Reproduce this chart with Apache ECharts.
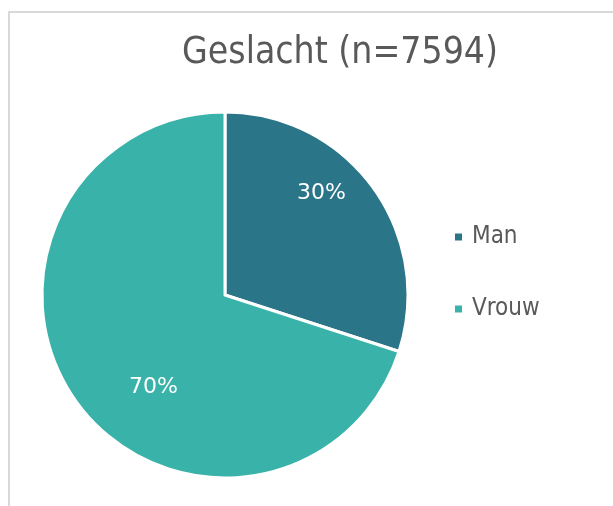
<!DOCTYPE html>
<html>
<head>
<meta charset="utf-8">
<script src="https://cdn.jsdelivr.net/npm/echarts@6/dist/echarts.min.js"></script>
<style>
  html, body { margin: 0; padding: 0; background: #fff; }
  #frame {
    position: absolute; left: 8px; top: 11px; width: 613px; height: 506px;
    border-left: 2px solid #d9d9d9; border-top: 2px solid #d9d9d9;
  }
  #chart { position: absolute; left: 0; top: 0; width: 613px; height: 506px; }
</style>
</head>
<body>
<div id="frame"></div>
<div id="chart"></div>
<script>
const titleText = "Geslacht (n=7594)";
const categories = ["Man", "Vrouw"];
const values = [30, 70];

const colors = ["#2b7588", "#39b3a9"];
const labelOffsets = [[20, -46], [5, 37]];
const narrowFont = "'Liberation Sans Narrow', 'DejaVu Sans Condensed', sans-serif";
const labelFont = "'DejaVu Sans', Verdana, sans-serif";

const chart = echarts.init(document.getElementById("chart"));

const pieData = categories.map((name, i) => ({
  name: name,
  value: values[i],
  label: { offset: labelOffsets[i] },
}));

chart.setOption({
  animation: false,
  color: colors,
  title: {
    text: titleText,
    left: 335,
    top: 30,
    textAlign: "center",
    textStyle: {
      fontFamily: narrowFont,
      fontSize: 37,
      fontWeight: "normal",
      color: "#595959",
    },
  },
  legend: {
    orient: "vertical",
    left: 448,
    top: 220,
    padding: 5,
    itemGap: 48,
    icon: "rect",
    itemWidth: 9,
    itemHeight: 9,
    data: categories,
    textStyle: {
      fontFamily: narrowFont,
      fontSize: 24,
      color: "#595959",
      padding: [0, 0, 0, 4],
    },
  },
  series: [
    {
      type: "pie",
      center: [225, 295],
      radius: [0, 183],
      startAngle: 90,
      clockwise: true,
      silent: true,
      itemStyle: {
        borderColor: "#ffffff",
        borderWidth: 3,
      },
      label: {
        show: true,
        position: "inside",
        formatter: "{d}%",
        color: "#ffffff",
        fontFamily: labelFont,
        fontSize: 22,
      },
      labelLine: { show: false },
      data: pieData,
    },
  ],
});
</script>
</body>
</html>
